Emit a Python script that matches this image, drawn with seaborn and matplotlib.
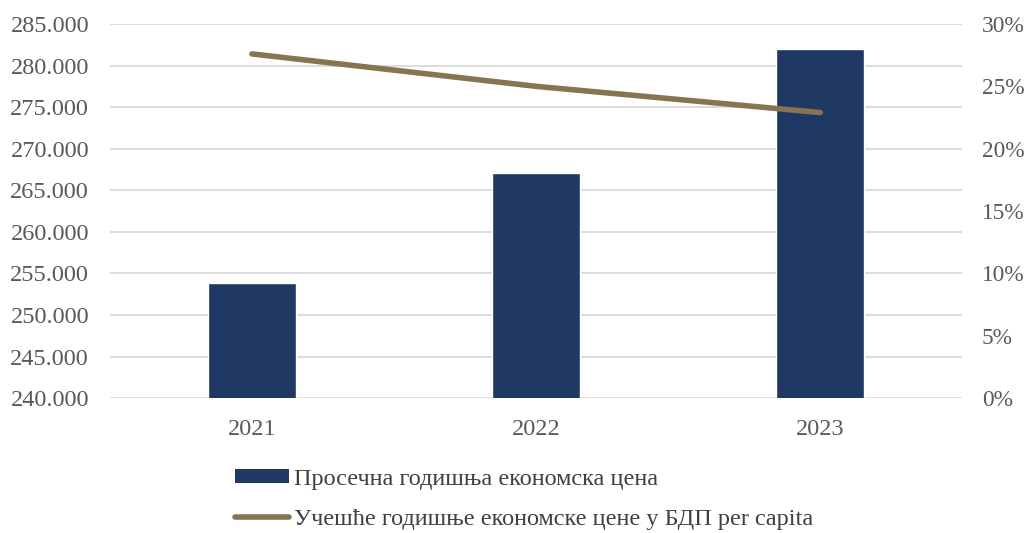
import matplotlib
matplotlib.use('Agg')
import matplotlib.pyplot as plt
import matplotlib.ticker as mticker
from matplotlib.patches import Patch
from matplotlib.lines import Line2D
import numpy as np
import pandas as pd
import seaborn as sns

years = ['2021', '2022', '2023']
avg_price = [253900, 267100, 281950]
gdp_share = [27.6, 25.0, 22.9]

bar_label = 'Просечна годишња економска цена'
line_label = 'Учешће годишње економске цене у БДП per capita'

BAR_COLOR = '#1F3864'
LINE_COLOR = '#857550'
TEXT_COLOR = '#595959'

sns.set_theme(style='white')
plt.rcParams['font.family'] = ['Liberation Serif', 'DejaVu Serif']

df = pd.DataFrame({'year': years, 'price': avg_price, 'share': gdp_share})
df['pos'] = np.arange(len(years))

fig = plt.figure(figsize=(10.27, 5.33), dpi=100)
ax = fig.add_axes([0.107, 0.253, 0.83, 0.702])

sns.barplot(data=df, x='year', y='price', color=BAR_COLOR, width=0.31,
            saturation=1, ax=ax, zorder=2)
ax.set_ylim(240000, 285000)
ax.set_xlim(-0.5, 2.5)
ax.yaxis.set_major_locator(mticker.MultipleLocator(5000))
ax.yaxis.set_major_formatter(mticker.FuncFormatter(lambda v, p: f'{v/1000:.3f}'))
ax.grid(axis='y', color='#D9D9D9', linewidth=1.3, zorder=0)
ax.set_axisbelow(True)
ax.set_xlabel('')
ax.set_ylabel('')
ax.tick_params(axis='both', length=0, labelsize=17.5, colors=TEXT_COLOR)
ax.tick_params(axis='y', pad=15)
ax.tick_params(axis='x', pad=15)
for s in ax.spines.values():
    s.set_visible(False)

ax2 = ax.twinx()
sns.lineplot(data=df, x='pos', y='share', color=LINE_COLOR, linewidth=4,
             solid_capstyle='round', ax=ax2, legend=False)
ax2.set_ylim(0, 30)
ax2.set_xlim(-0.5, 2.5)
ax2.yaxis.set_major_locator(mticker.MultipleLocator(5))
ax2.yaxis.set_major_formatter(mticker.FuncFormatter(lambda v, p: f'{v:.0f}%'))
ax2.set_ylabel('')
ax2.set_xlabel('')
ax2.tick_params(axis='y', length=0, labelsize=16.8, colors=TEXT_COLOR, pad=14)
for s in ax2.spines.values():
    s.set_visible(False)

handles = [Patch(facecolor=BAR_COLOR, edgecolor='none'),
           Line2D([0], [0], color=LINE_COLOR, linewidth=4, solid_capstyle='round')]
leg = fig.legend(handles, [bar_label, line_label], loc='upper left',
                 bbox_to_anchor=(0.229, 0.121), frameon=False, fontsize=17.5,
                 handlelength=2.2, handleheight=0.48, handletextpad=0.2,
                 labelspacing=0.8, borderaxespad=0, borderpad=0)
for t in leg.get_texts():
    t.set_color('#404040')

fig.savefig('out.png', dpi=100)
